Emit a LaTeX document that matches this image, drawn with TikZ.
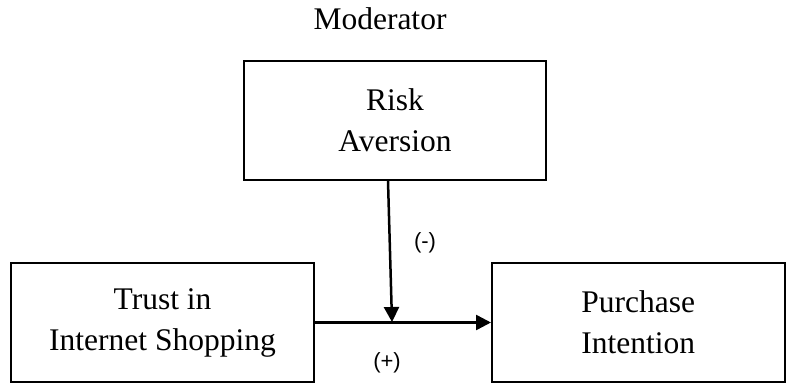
\documentclass[tikz,border=0pt]{standalone}
\usepackage{fontspec}
\setmainfont{Liberation Serif}
\newfontfamily\signfont{Liberation Sans}
\usetikzlibrary{arrows.meta}
\usetikzlibrary{positioning}

\tikzset{
  box/.style={draw, line width=2pt, align=center, inner sep=0pt,
    minimum height=119pt, font=\fontsize{31.5}{41}\selectfont},
  arr/.style={line width=2.5pt, -{Triangle[length=15pt,width=15pt]}},
  sign/.style={font=\signfont\fontsize{22}{26}\selectfont}
}

\begin{document}
\begin{tikzpicture}[x=1pt,y=1pt]
    \useasboundingbox (0,0) rectangle (786,385);

    \node (trust) [box, minimum width=303pt] at (162.5,62.5) {Trust in\\Internet Shopping};
    \node (purchase) [box, minimum width=292.5pt, right=176pt of trust] {Purchase\\Intention};
    \node (risk) [box, minimum width=302pt] at (395,264.5) {Risk\\Aversion};
    \node (moderator) [anchor=base, font=\fontsize{31.5}{41}\selectfont] at (380,355) {Moderator};

    \coordinate (join) at (392,63);
    \draw [arr] (trust.east) -- (purchase.west);
    \draw [arr] ([xshift=-7pt]risk.south) -- (join);

    \node (minus) [sign] at (425,142) {(-)};
    \node (plus) [sign] at (387,22) {(+)};
  \end{tikzpicture}
\end{document}
